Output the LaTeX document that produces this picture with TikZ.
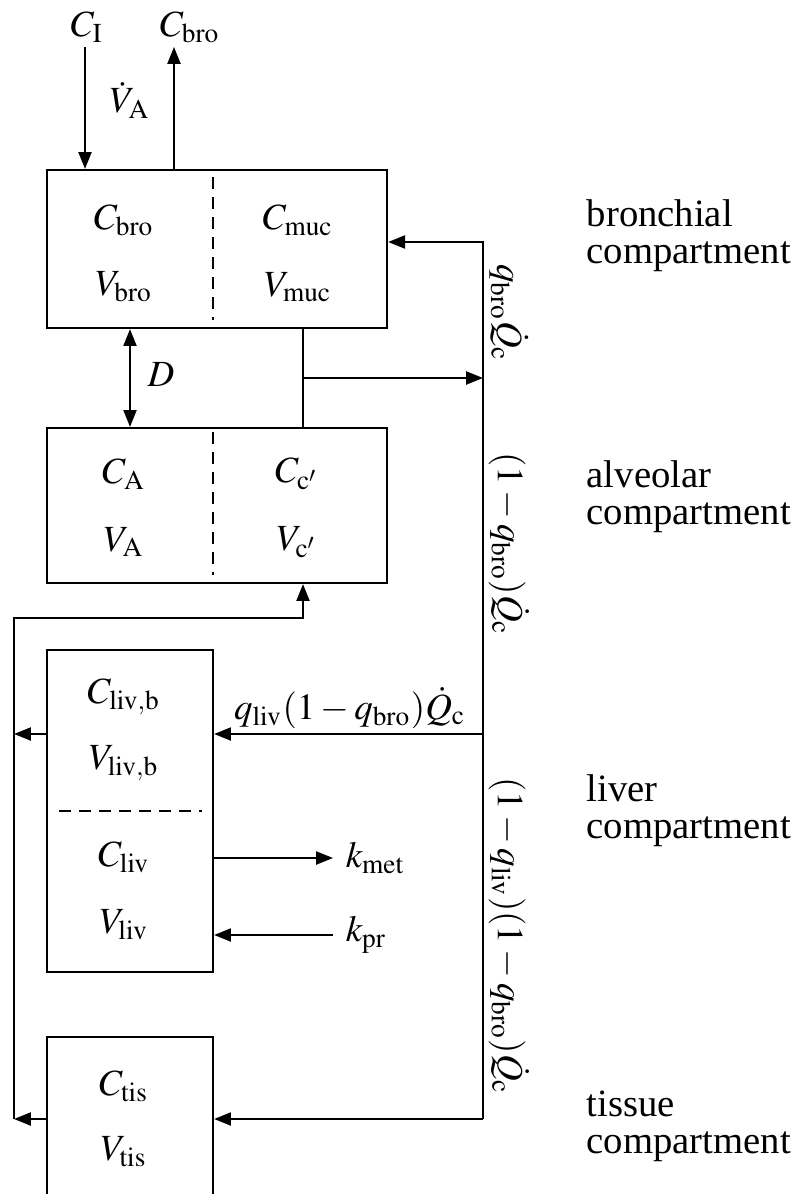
\documentclass[tikz,border=0pt]{standalone}
\usepackage{mathptmx}
\usepackage{fontspec}
\setmainfont{Liberation Serif}
\usetikzlibrary{arrows.meta}

\begin{document}
\begin{tikzpicture}[
    x=0.01cm, y=-0.01cm, line width=0.6pt,
    every node/.style={font=\fontsize{10.5}{12}\selectfont},
    box/.style={
        draw, line width=0.6pt, inner sep=0pt
    },
    arr/.style={
        -{Triangle[length=4.8pt, width=3.7pt]}, line width=0.6pt
    },
    darr/.style={
        {Triangle[length=4.8pt, width=3.7pt]}-{Triangle[length=4.8pt, width=3.7pt]}, line width=0.6pt
    },
    divider/.style={
        line width=0.6pt, dash pattern=on 3.4pt off 2.3pt
    },
    part/.style={
        anchor=west, align=left, font=\fontsize{11}{10.5}\selectfont
    }
]
\clip (0,0) rectangle (794,1194);

% Compartment boxes
\node[box, minimum width=3.4cm, minimum height=1.58cm] (bro) at (217,249) {};
\node[box, minimum width=3.4cm, minimum height=1.55cm] (alv) at (217,505.5) {};
\node[box, minimum width=1.66cm, minimum height=3.22cm] (liv) at (130,811) {};
\node[box, minimum width=1.66cm, minimum height=3cm] (tis) at (130,1187) {};

% Dividers inside the boxes
\draw[divider] (213,177) -- (213,320);
\draw[divider] (213,432) -- (213,575);
\draw[divider] (59,811) -- (202,811);

% Bronchial compartment
\node (cbro) at (124,220) {$C_{\mathrm{bro}}$};
\node (vbro) at (124,287) {$V_{\mathrm{bro}}$};
\node (cmuc) at (298,220) {$C_{\mathrm{muc}}$};
\node (vmuc) at (298,287) {$V_{\mathrm{muc}}$};

% Alveolar compartment
\node (ca) at (124,474) {$C_{\mathrm{A}}$};
\node (va) at (124,542) {$V_{\mathrm{A}}$};
\node (cc) at (297,474) {$C_{\mathrm{c}'}$};
\node (vc) at (297,542) {$V_{\mathrm{c}'}$};

% Liver compartment
\node (clivb) at (124,697) {$C_{\mathrm{liv,b}}$};
\node (vlivb) at (124,763) {$V_{\mathrm{liv,b}}$};
\node (cliv) at (124,857) {$C_{\mathrm{liv}}$};
\node (vliv) at (124,925) {$V_{\mathrm{liv}}$};

% Tissue compartment
\node (ctis) at (124,1086) {$C_{\mathrm{tis}}$};
\node (vtis) at (124,1152) {$V_{\mathrm{tis}}$};

% Ventilation
\node (ci) at (87,27) {$C_{\mathrm{I}}$};
\node (cout) at (190,27) {$C_{\mathrm{bro}}$};
\node (vdot) at (130,100) {$\dot{V}_{\mathrm{A}}$};
\coordinate (inflow) at (85,47);
\coordinate (outflow) at (174,47);
\draw[arr] (inflow) -- (inflow |- bro.north);
\draw[arr] (outflow |- bro.north) -- (outflow);

% Diffusion
\coordinate (dx) at (130,378);
\draw[darr] (bro.south -| dx) -- (alv.north -| dx);
\node (d) at (161,375) {$D$};

% Blood flow
\coordinate (split) at (483,378);
\coordinate (rtop) at (483,242);
\coordinate (rliv) at (483,734);
\coordinate (rtis) at (483,1119);
\coordinate (mjoin) at (303,378);
\coordinate (lliv) at (14,734);
\coordinate (ltis) at (14,1119);
\coordinate (lalv) at (14,618);
\coordinate (alvin) at (303,618);

\draw (bro.south -| mjoin) -- (alv.north -| mjoin);
\draw[arr] (mjoin) -- (split);
\draw[arr] (split) -- (rtop) -- (bro.east |- rtop);
\draw (split) -- (rtis);
\draw[arr] (rliv) -- (liv.east |- rliv);
\draw[arr] (rtis) -- (tis.east |- rtis);
\draw[arr] (liv.west |- lliv) -- (lliv);
\draw[arr] (tis.west |- ltis) -- (ltis);
\draw[arr] (ltis) -- (lalv) -- (alvin) -- (alv.south -| alvin);

\node (qliv) at (350,708) {$q_{\mathrm{liv}}(1-q_{\mathrm{bro}})\dot{Q}_{\mathrm{c}}$};
\node[rotate=-90] (qbro) at (509,313) {$q_{\mathrm{bro}}\dot{Q}_{\mathrm{c}}$};
\node[rotate=-90] (qalv) at (509,544) {$(1-q_{\mathrm{bro}})\dot{Q}_{\mathrm{c}}$};
\node[rotate=-90] (qtis) at (509,936) {$(1-q_{\mathrm{liv}})(1-q_{\mathrm{bro}})\dot{Q}_{\mathrm{c}}$};

% Metabolism and production
\node[anchor=west] (kmet) at (333,858) {$k_{\mathrm{met}}$};
\node[anchor=west] (kpr) at (333,935) {$k_{\mathrm{pr}}$};
\draw[arr] (liv.east |- kmet.west) -- (kmet.west);
\draw[arr] (kpr.west) -- (liv.east |- kpr.west);

% Compartment names
\node[part] (lbro) at (574,236) {bronchial\\compartment};
\node[part] (lalvname) at (574,497) {alveolar\\compartment};
\node[part] (lliver) at (574,811) {liver\\compartment};
\node[part] (ltissue) at (574,1126) {tissue\\compartment};

\end{tikzpicture}
\end{document}
